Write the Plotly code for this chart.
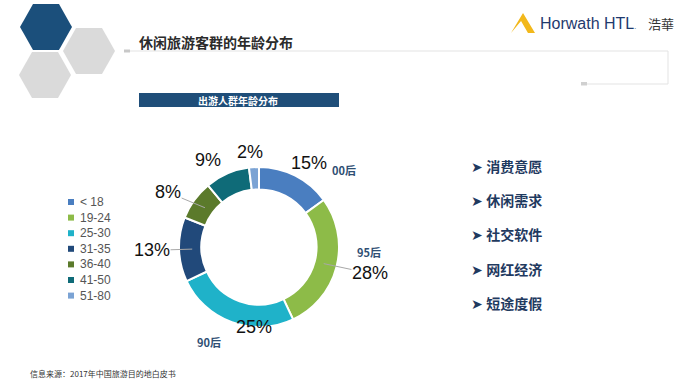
import math
import plotly.graph_objects as go

W, H = 681, 384

age_groups = ["< 18", "19-24", "25-30", "31-35", "36-40", "41-50", "51-80"]
shares = [15, 28, 25, 13, 8, 9, 2]
colors = ["#4a7ec0", "#8dbb48", "#1fb2c9", "#21497a", "#5b7a2b", "#0f6b78", "#7ba3d4"]

gen_labels = ["00后", "95后", "90后"]
bullets = ["消费意愿", "休闲需求", "社交软件", "网红经济", "短途度假"]
title = "休闲旅游客群的年龄分布"
subtitle = "出游人群年龄分布"
source = "信息来源：2017年中国旅游目的地白皮书"

# label layout tweaks (radius in px from centre, angle nudge in degrees, leader line?)
label_r = [98, 114, 80, 107, 106, 101, 95]
label_da = [4, -1, -16, 0, -5, -7, -2]
label_leader = [False, True, False, True, True, False, False]


def px(x):
    return x / W


def py(y):
    return 1 - y / H


def hexpath(cx, cy, w, h):
    pts = [(cx - w, cy), (cx - w / 2, cy - h), (cx + w / 2, cy - h),
           (cx + w, cy), (cx + w / 2, cy + h), (cx - w / 2, cy + h)]
    return "M " + " L ".join(f"{px(a):.4f},{py(b):.4f}" for a, b in pts) + " Z"


# pie geometry (pixels)
PX0, PX1, PY0, PY1 = 178, 340, 167, 327
CX, CY = (PX0 + PX1) / 2, (PY0 + PY1) / 2
R = min(PX1 - PX0, PY1 - PY0) / 2
HOLE = 0.72

fig = go.Figure()
fig.add_trace(go.Pie(
    labels=age_groups, values=shares, sort=False, direction="clockwise",
    rotation=0, hole=HOLE,
    marker=dict(colors=colors, line=dict(color="white", width=2)),
    textinfo="none", hoverinfo="label+percent",
    domain=dict(x=[px(PX0), px(PX1)], y=[py(PY1), py(PY0)]),
    showlegend=False,
))

shapes = [
    dict(type="path", path=hexpath(46, 27, 26, 23), fillcolor="#1b4f7b", line=dict(width=0), xref="paper", yref="paper"),
    dict(type="path", path=hexpath(89, 51, 26, 23), fillcolor="#dadada", line=dict(width=0), xref="paper", yref="paper"),
    dict(type="path", path=hexpath(45, 75, 26, 23), fillcolor="#dadada", line=dict(width=0), xref="paper", yref="paper"),
    dict(type="line", x0=px(130), x1=px(668), y0=py(51), y1=py(51), xref="paper", yref="paper", line=dict(color="#e3e3e3", width=1)),
    dict(type="rect", x0=px(124), x1=px(130), y0=py(52.5), y1=py(49.5), xref="paper", yref="paper", fillcolor="#c8c8c8", line=dict(width=0)),
    dict(type="line", x0=px(668), x1=px(668), y0=py(51), y1=py(84), xref="paper", yref="paper", line=dict(color="#e3e3e3", width=1)),
    dict(type="line", x0=px(587), x1=px(668), y0=py(84), y1=py(84), xref="paper", yref="paper", line=dict(color="#e3e3e3", width=1)),
    dict(type="rect", x0=px(581), x1=px(587), y0=py(85.5), y1=py(82), xref="paper", yref="paper", fillcolor="#d0d0d0", line=dict(width=0)),
    dict(type="rect", x0=px(139), x1=px(339), y0=py(107), y1=py(93), xref="paper", yref="paper", fillcolor="#1f4e79", line=dict(width=0)),
    dict(type="path", path=f"M {px(511):.4f},{py(33):.4f} L {px(523):.4f},{py(13):.4f} L {px(535):.4f},{py(33):.4f} L {px(528):.4f},{py(33):.4f} L {px(521):.4f},{py(21):.4f} Z",
         fillcolor="#f2b81b", line=dict(width=0), xref="paper", yref="paper"),
]

ann = [
    dict(text=f"<b>{title}</b>", x=px(137), y=py(42), xanchor="left", yanchor="middle",
         font=dict(family="Noto Sans CJK SC", size=14, color="#2b2b2b"), showarrow=False),
    dict(text=f"<b>{subtitle}</b>", x=px(238), y=py(100), xanchor="center", yanchor="middle",
         font=dict(family="Noto Sans CJK SC", size=10, color="white"), showarrow=False),
    dict(text="Horwath HTL<span style='font-size:7px'>.</span>", x=px(538), y=py(23), xanchor="left", yanchor="middle",
         font=dict(family="Liberation Sans, Arial", size=16, color="#1f3a6e"), showarrow=False),
    dict(text="浩華", x=px(646), y=py(23), xanchor="left", yanchor="middle",
         font=dict(family="Noto Sans CJK TC", size=13, color="#333"), showarrow=False),
    dict(text=source, x=px(28), y=py(373), xanchor="left", yanchor="middle",
         font=dict(family="Noto Sans CJK SC", size=8, color="#333"), showarrow=False),
]

# percentage labels derived from the data
total = sum(shares)
cum = 0
for i, v in enumerate(shares):
    mid = (cum + v / 2) / total * 360
    cum += v
    a = math.radians(mid + label_da[i])
    lx, ly = CX + label_r[i] * math.sin(a), CY - label_r[i] * math.cos(a)
    txt = f"{v}%"
    f = dict(family="Liberation Sans, Arial", size=18, color="#111")
    if label_leader[i]:
        am = math.radians(mid)
        rt = R * (HOLE + 1) / 2 - 2
        tx, ty = CX + rt * math.sin(am), CY - rt * math.cos(am)
        ann.append(dict(text=txt, x=px(tx), y=py(ty), ax=lx - tx, ay=ly - ty,
                        axref="pixel", ayref="pixel", showarrow=True, arrowhead=0,
                        arrowwidth=1, arrowcolor="#a8a8a8", standoff=0, font=f,
                        xanchor="center", yanchor="middle", borderpad=0))
    else:
        ann.append(dict(text=txt, x=px(lx), y=py(ly), showarrow=False, font=f,
                        xanchor="center", yanchor="middle"))

gen_pos = [(330, 170), (355, 252), (195, 342)]
for t, (x, y) in zip(gen_labels, gen_pos):
    ann.append(dict(text=f"<b>{t}</b>", x=px(x), y=py(y), xanchor="left", yanchor="middle",
                    font=dict(family="Noto Sans CJK SC", size=11, color="#2f4f73"), showarrow=False))

for i, b in enumerate(bullets):
    y = 166 + i * 34.2
    ann.append(dict(text=f"➤ <b>{b}</b>", x=px(469), y=py(y), xanchor="left", yanchor="middle",
                    font=dict(family="Noto Sans CJK SC", size=14, color="#1f3a5f"), showarrow=False))

# legend drawn from the category list and palette
for i, (g, c) in enumerate(zip(age_groups, colors)):
    y = 202 + i * 15.6
    shapes.append(dict(type="rect", x0=px(68), x1=px(74), y0=py(y + 3), y1=py(y - 3),
                       xref="paper", yref="paper", fillcolor=c, line=dict(width=0)))
    ann.append(dict(text=g, x=px(78), y=py(y), xanchor="left", yanchor="middle",
                    font=dict(family="Liberation Sans, Arial", size=12, color="#555"), showarrow=False))

fig.update_layout(
    width=W, height=H, margin=dict(l=0, r=0, t=0, b=0),
    paper_bgcolor="white", plot_bgcolor="white",
    shapes=shapes, annotations=ann, showlegend=False,
)

fig.write_html("out.html", config={"displayModeBar": False},
               post_script="document.body.style.margin='0px';document.body.style.overflow='hidden';")
